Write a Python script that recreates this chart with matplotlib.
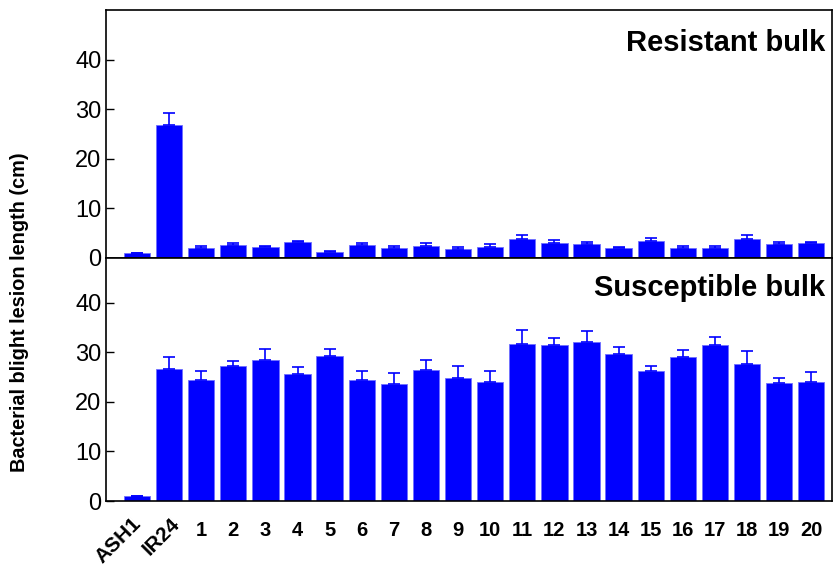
import numpy as np
import matplotlib
matplotlib.use('Agg')
from matplotlib import pyplot as plt

plt.rcParams['font.family'] = ['Liberation Sans', 'DejaVu Sans']

labels = ['ASH1', 'IR24'] + [str(i) for i in range(1, 21)]

resistant = [1.0, 26.8, 2.1, 2.7, 2.3, 3.3, 1.2, 2.6, 2.1, 2.4, 1.9,
             2.3, 3.9, 3.1, 2.8, 2.1, 3.4, 2.1, 2.0, 3.8, 2.9, 3.0]
resistant_err = [0.1, 2.4, 0.4, 0.4, 0.2, 0.2, 0.3, 0.4, 0.4, 0.6, 0.3,
                 0.5, 0.7, 0.5, 0.5, 0.2, 0.7, 0.4, 0.4, 0.8, 0.4, 0.2]

susceptible = [1.0, 26.7, 24.5, 27.3, 28.4, 25.6, 29.3, 24.5, 23.6, 26.5, 24.9,
               24.0, 31.7, 31.5, 32.0, 29.7, 26.3, 29.0, 31.5, 27.7, 23.7, 23.9]
susceptible_err = [0.1, 2.4, 1.7, 1.0, 2.3, 1.5, 1.4, 1.8, 2.3, 2.0, 2.4,
                   2.2, 2.7, 1.3, 2.2, 1.4, 1.0, 1.5, 1.6, 2.5, 1.1, 2.2]

x = np.arange(len(labels))

fig = plt.figure(figsize=(8.33, 5.72), dpi=100)
ax1 = fig.add_axes([0.127, 0.549, 0.872, 0.4335])
ax2 = fig.add_axes([0.127, 0.124, 0.872, 0.425])

for ax, vals, errs, title, top, ty in [(ax1, resistant, resistant_err, 'Resistant bulk', 50, 0.925),
                                        (ax2, susceptible, susceptible_err, 'Susceptible bulk', 49, 0.935)]:
    ax.bar(x, vals, width=0.82, color='#0000ff', edgecolor='#6f6fff', linewidth=0.6,
           yerr=[np.zeros(len(errs)), errs], capsize=4.5,
           error_kw=dict(ecolor='#0000ff', elinewidth=1.2, capthick=1.2))
    ax.set_xlim(-0.97, 21.65)
    ax.set_ylim(0, top)
    ax.set_yticks([0, 10, 20, 30, 40])
    ax.tick_params(axis='y', direction='in', length=6, width=1, labelsize=17, pad=3)
    ax.tick_params(axis='x', length=0)
    for s in ax.spines.values():
        s.set_linewidth(1.2)
    ax.text(0.99, ty, title, transform=ax.transAxes, ha='right', va='top',
            fontsize=21, fontweight='bold')

ax1.set_xticks([])
ax2.set_xticks(x)
# the two parent names are drawn slanted by hand below
ax2.set_xticklabels([''] * 2 + labels[2:], fontweight='bold', fontsize=14.5)
ax2.tick_params(axis='x', pad=14)
for xi, lab, dx, ypos in [(x[0], labels[0], 0.05, -0.08), (x[1], labels[1], 0.25, -0.08)]:
    ax2.text(xi + dx, ypos, lab, transform=ax2.get_xaxis_transform(),
             rotation=45, rotation_mode='anchor', ha='right', va='center',
             fontsize=15, fontweight='bold')

fig.text(0.024, 0.455, 'Bacterial blight lesion length (cm)', rotation=90,
         ha='center', va='center', fontsize=14.3, fontweight='bold')

fig.savefig('out.png', dpi=100)
